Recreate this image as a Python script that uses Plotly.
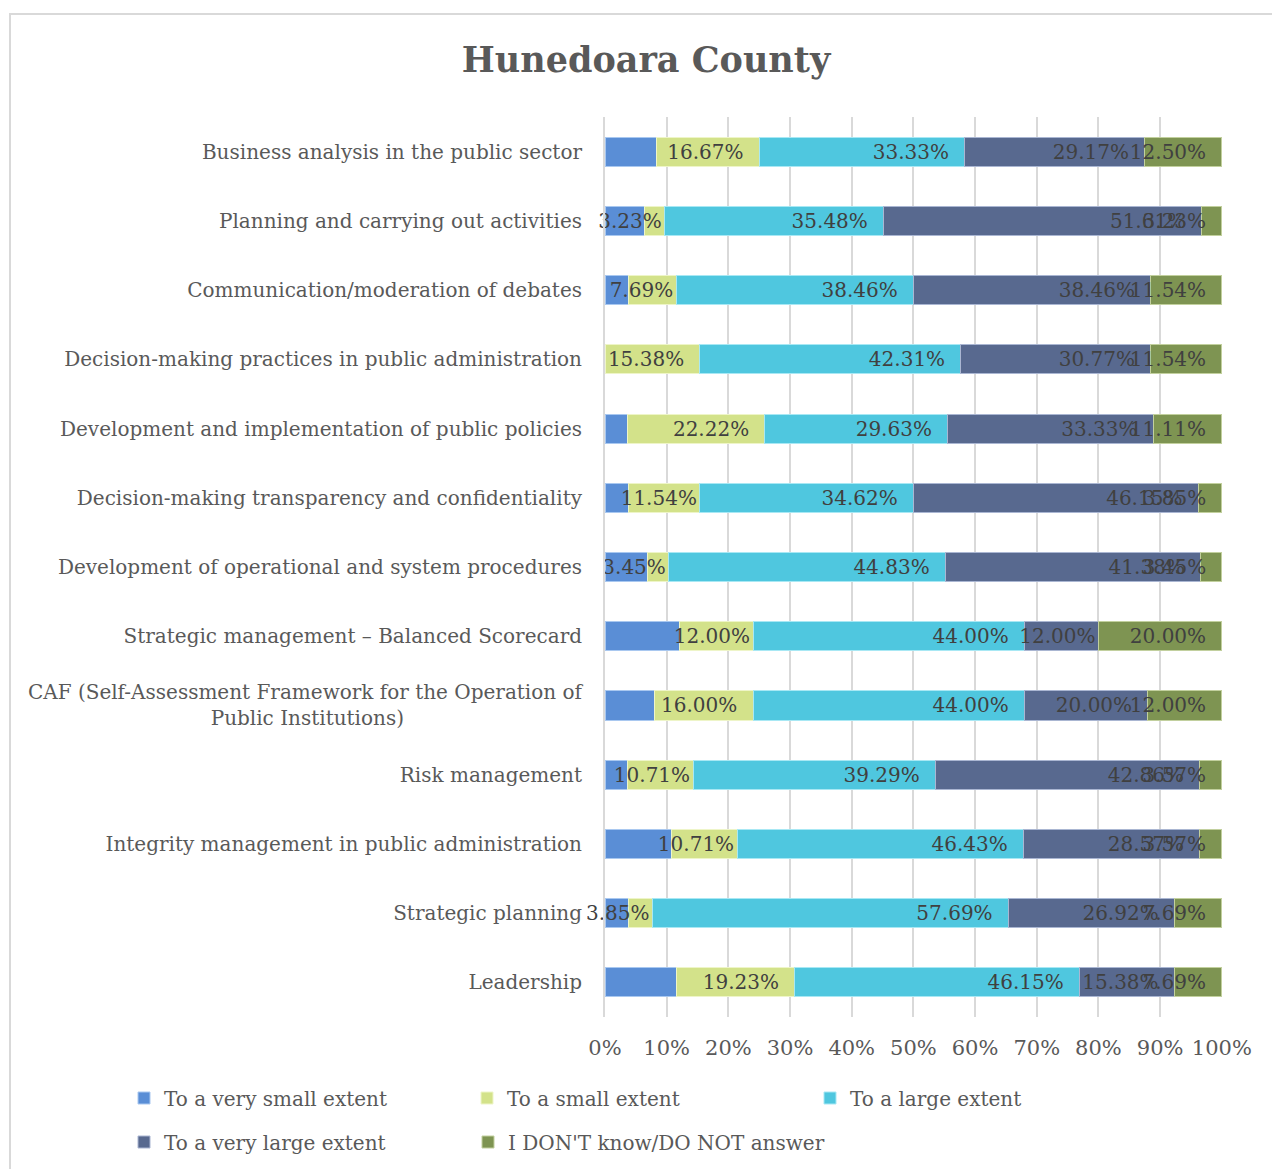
import plotly.graph_objects as go

categories = [
    "Business analysis in the public sector",
    "Planning and carrying out activities",
    "Communication/moderation of debates",
    "Decision-making practices in public administration",
    "Development and implementation of public policies",
    "Decision-making transparency and confidentiality",
    "Development of operational and system procedures",
    "Strategic management \u2013 Balanced Scorecard",
    "CAF (Self-Assessment Framework for the Operation of<br>Public Institutions)" + "\u00a0" * 28,
    "Risk management",
    "Integrity management in public administration",
    "Strategic planning",
    "Leadership",
]

very_small = [8.33, 6.45, 3.85, 0.00, 3.70, 3.85, 6.90, 12.00, 8.00, 3.57, 10.71, 3.85, 11.54]
small = [16.67, 3.23, 7.69, 15.38, 22.22, 11.54, 3.45, 12.00, 16.00, 10.71, 10.71, 3.85, 19.23]
large = [33.33, 35.48, 38.46, 42.31, 29.63, 34.62, 44.83, 44.00, 44.00, 39.29, 46.43, 57.69, 46.15]
very_large = [29.17, 51.61, 38.46, 30.77, 33.33, 46.15, 41.38, 12.00, 20.00, 42.86, 28.57, 26.92, 15.38]
dont_know = [12.50, 3.23, 11.54, 11.54, 11.11, 3.85, 3.45, 20.00, 12.00, 3.57, 3.57, 7.69, 7.69]

series_names = ["To a very small extent", "To a small extent", "To a large extent",
                "To a very large extent", "I DON'T know/DO NOT answer"]
series_values = [very_small, small, large, very_large, dont_know]
series_labelled = [False, True, True, True, True]
series_legend = ["legend", "legend", "legend", "legend2", "legend3"]
series_colors = ["#5A8ED6", "#D3E28A", "#4FC7DF", "#58698F", "#7E9452"]
series_lines = ["#A9C8F0", "#EEF5C8", "#A8E8F4", "#AAB6D2", "#C2D09E"]

x_ticks = [0, 10, 20, 30, 40, 50, 60, 70, 80, 90, 100]
x_ticklabels = [f"{t}%" for t in x_ticks]

W, H = 1272, 1169
ML, MR, MT, MB = 605, 50, 117, 152
PW, PH = W - ML - MR, H - MT - MB

font_family = "DejaVu Serif"
LABEL_SIZE = 20
PAD = "\u00a0\u00a0"


def label_text(v, last_segment):
    s = f"{v:.2f}%"
    est_w = len(s) * 0.63 * LABEL_SIZE
    fits = v * PW / 100 >= est_w + 14
    return s + PAD if (fits or last_segment) else s


fig = go.Figure()
n_series = len(series_values)
for k, (name, vals, lab, col, lcol, lg) in enumerate(zip(
        series_names, series_values, series_labelled, series_colors, series_lines, series_legend)):
    texts = [label_text(v, k == n_series - 1) if (lab and v > 0) else "" for v in vals]
    fig.add_trace(go.Bar(
        y=categories, x=vals, name=name, orientation="h", legend=lg,
        marker=dict(color=col, line=dict(color=lcol, width=1)),
        text=texts, textposition="inside", insidetextanchor="end", textangle=0,
        textfont=dict(family=font_family, size=LABEL_SIZE, color="#404040"),
        constraintext="none", cliponaxis=False,
        hoverinfo="name+x",
    ))


def px_x(px):
    return (px - ML) / PW


def px_y(py):
    return (H - MB - py) / PH


legend_common = dict(orientation="h", xanchor="left", yanchor="middle",
                     font=dict(family=font_family, size=20, color="#595959"),
                     traceorder="normal", bgcolor="rgba(0,0,0,0)")

fig.update_layout(
    width=W, height=H,
    barmode="stack", bargap=0.58,
    paper_bgcolor="white", plot_bgcolor="white",
    margin=dict(l=ML, r=MR, t=MT, b=MB, autoexpand=False),
    uniformtext=dict(minsize=LABEL_SIZE, mode="show"),
    title=dict(text="<b>Hunedoara County</b>", x=(463 + 829) / 2 / W, xanchor="center",
               y=1 - 60 / H, yanchor="middle",
               font=dict(family=font_family, size=35, color="#595959")),
    font=dict(family=font_family, color="#595959"),
    xaxis=dict(range=[0, 100.03], tickvals=x_ticks, ticktext=x_ticklabels,
               showgrid=True, gridcolor="#D9D9D9", gridwidth=2,
               zeroline=False, showline=False, ticks="",
               tickfont=dict(family=font_family, size=21, color="#595959"),
               ticklabelstandoff=16, fixedrange=True),
    yaxis=dict(autorange="reversed", showline=True, linecolor="#D9D9D9", linewidth=2,
               ticks="", ticklabelstandoff=17,
               tickfont=dict(family=font_family, size=20, color="#595959"),
               fixedrange=True),
    legend=dict(x=px_x(124), y=px_y(1098), entrywidth=298, entrywidthmode="pixels",
                **legend_common),
    legend2=dict(x=px_x(124), y=px_y(1142), **legend_common),
    legend3=dict(x=px_x(124 + 344), y=px_y(1142), **legend_common),
    shapes=[dict(type="rect", xref="paper", yref="paper",
                 x0=px_x(10), x1=px_x(W + 20),
                 y0=px_y(H + 20), y1=px_y(14),
                 line=dict(color="#D9D9D9", width=2), layer="below")],
)

fig.write_html("out.html")
